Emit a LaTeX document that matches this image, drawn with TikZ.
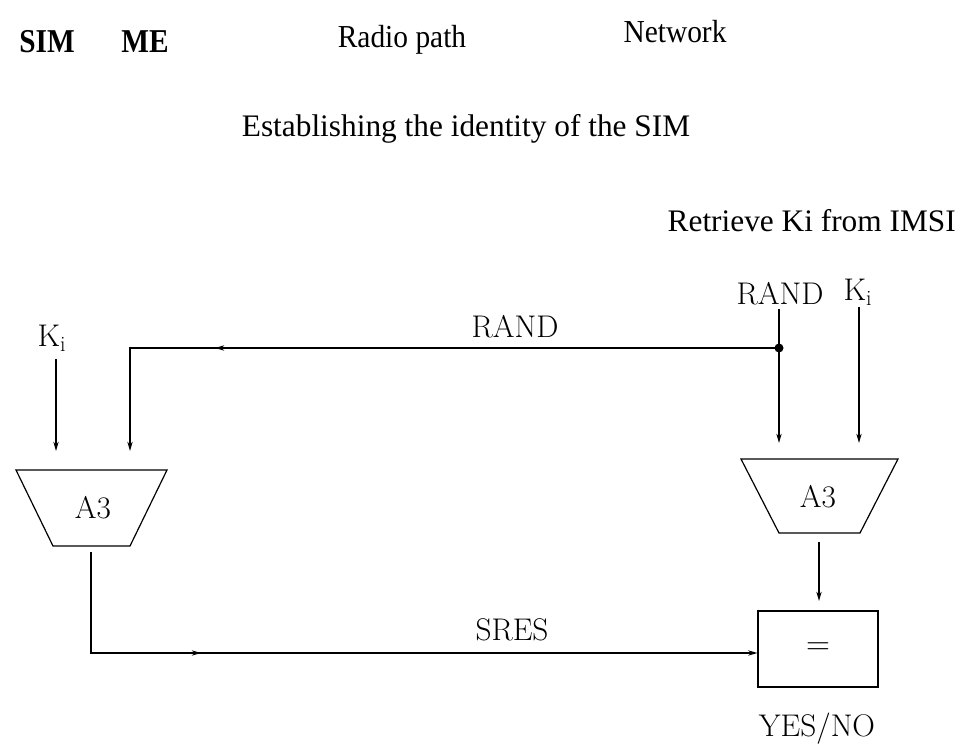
\documentclass[tikz,border=0pt]{standalone}
\usepackage{fontspec}
\newfontfamily\timesfont{Liberation Serif}
\usetikzlibrary{arrows.meta, decorations.markings}

\tikzset{
  wire/.style={line width=0.9pt},
  arr/.style={wire, -{Stealth[length=7pt,width=4pt]}},
  lbl/.style={font=\fontsize{23.5}{26}\selectfont, inner sep=0pt},
  hdr/.style={font=\timesfont\fontsize{23.5}{26}\selectfont, inner sep=0pt},
  colhead/.style={font=\timesfont\fontsize{24}{26}\selectfont, inner sep=0pt, xscale=0.92},
  colheadb/.style={font=\timesfont\bfseries\fontsize{25}{28}\selectfont, inner sep=0pt, xscale=0.88},
  blockline/.style={wire, line join=miter},
  midarrow/.style={postaction={decorate, decoration={markings,
      mark=at position #1 with {\arrow{Stealth[length=7pt,width=4pt]}}}}},
}

\begin{document}
\begin{tikzpicture}[x=0.75pt, y=-0.75pt]
  \useasboundingbox (0,0) rectangle (961,749);

  % column headings
  \node[colheadb, anchor=base] (hsim) at (47,53) {SIM};
  \node[colheadb, anchor=base] (hme) at (145,53) {ME};
  \node[colhead, anchor=base] (hradio) at (402,48) {Radio path};
  \node[colhead, anchor=base] (hnet) at (675,43) {Network};

  \node[hdr, anchor=base] (title) at (466,137) {Establishing the identity of the SIM};
  \node[hdr, anchor=base east] (retr) at (956,231) {Retrieve Ki from IMSI};

  % network side inputs
  \node[lbl] (randN) at (780,294) {RAND};
  \node[lbl] (kiN) at (858,292) {K$_{\mathrm{i}}$};
  \coordinate (randNtop) at (779,309);
  \coordinate (kiNtop) at (859,307);
  \coordinate (split) at (779,348);
  \fill (split) circle (4.5);

  % network A3 block
  \draw[blockline] (741,459) -- (898,459) -- (860,533) -- (779,533) -- cycle;
  \node[lbl] (a3N) at (818,497) {A3};
  \coordinate (a3Nin1) at (779,443);
  \coordinate (a3Nin2) at (859,443);
  \coordinate (a3Nout) at (819,542);
  \coordinate (cmpTop) at (819,601);

  % comparator
  \node[draw, wire, minimum width=120*0.75pt, minimum height=76*0.75pt,
        inner sep=0pt] (cmp) at (818,649) {};
  \node[lbl] (eq) at (818,649) {$=$};
  \node[lbl] (yesno) at (817,729) {YES/NO};

  % SIM side inputs
  \node[lbl] (kiS) at (52,338) {K$_{\mathrm{i}}$};
  \coordinate (kiStop) at (56,359);
  \coordinate (a3Sin1) at (56,451);
  \coordinate (a3Sin2) at (130,451);
  \coordinate (corner) at (130,348);

  % SIM A3 block
  \draw[blockline] (16,470) -- (167,470) -- (130,546) -- (53,546) -- cycle;
  \node[lbl] (a3S) at (93,508) {A3};
  \coordinate (a3Sout) at (91,552);
  \coordinate (sresCorner) at (91,653);

  % connectors
  \draw[wire] (randNtop) -- (split);
  \draw[arr] (split) -- (a3Nin1);
  \draw[arr] (kiNtop) -- (a3Nin2);
  \draw[arr] (a3Nout) -- (cmpTop);
  \draw[arr] (kiStop) -- (a3Sin1);
  \draw[arr, midarrow=0.75] (split) -- (corner) -- (a3Sin2);
  \draw[arr, midarrow=0.275] (a3Sout) -- (sresCorner) -- (sresCorner -| cmp.west);

  \node[lbl] (randL) at (515,327) {RAND};
  \node[lbl] (sresL) at (512,630) {SRES};
\end{tikzpicture}
\end{document}
